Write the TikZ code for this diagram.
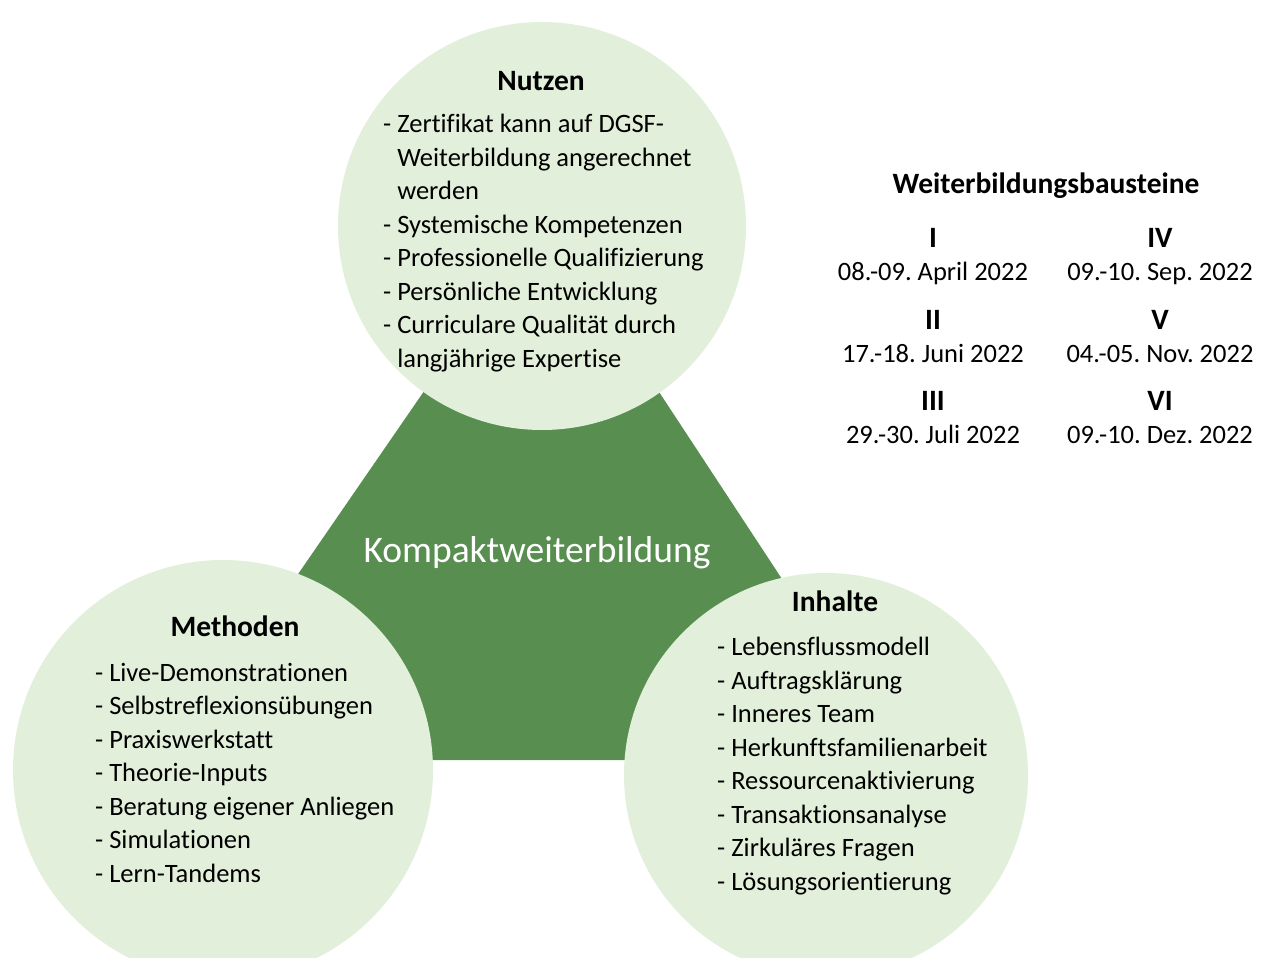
\documentclass[tikz,border=0pt]{standalone}
\usepackage{fontspec}
\setmainfont{Carlito}[Ligatures=NoCommon]
\frenchspacing
\definecolor{paleleaf}{RGB}{226,239,218}
\definecolor{darkleaf}{RGB}{88,142,80}
\begin{document}
\begin{tikzpicture}[x=1pt,y=-1pt,
bubble/.style={
% The shape:
circle,
% no border, only a pale green filling
draw=none,
fill=paleleaf
},
heading/.style={
anchor=base,
inner sep=0pt,
font=\fontsize{29.5}{33.5}\selectfont\bfseries
},
itemlist/.style={
% base is the baseline of the last line
anchor=base west,
inner sep=0pt,
align=left,
font=\fontsize{26.5}{33.5}\selectfont
},
date/.style={
anchor=base,
inner sep=0pt,
font=\fontsize{26.5}{33.5}\selectfont
}]
\useasboundingbox (0,0) rectangle (1269,958);
\clip (0,0) rectangle (1269,958);

% the dark triangle behind the circles
\coordinate (apex) at (544,217);
\coordinate (baseleft) at (170,760);
\coordinate (baseright) at (901,760);
\fill[darkleaf] (apex) -- (baseleft) -- (baseright) -- cycle;

% the three circles
\node[bubble,minimum size=408pt] (nutzen) at (542,226) {};
\node[bubble,minimum size=420pt] (methoden) at (223,770) {};
\node[bubble,minimum size=404pt] (inhalte) at (826,775) {};

\node[anchor=base,inner sep=0pt,text=white,
  font=\fontsize{37.5}{45}\selectfont] (kompakt) at (537,562) {Kompaktweiterbildung};

% Nutzen
\node[heading] (nutzenhead) at (541,91) {Nutzen};
\node[itemlist] (nutzenlist) at (383,367) {- Zertifikat kann auf DGSF-\\
\phantom{- }Weiterbildung angerechnet\\
\phantom{- }werden\\
- Systemische Kompetenzen\\
- Professionelle Qualifizierung\\
- Persönliche Entwicklung\\
- Curriculare Qualität durch\\
\phantom{- }langjährige Expertise};

% Methoden
\node[heading] (methodenhead) at (235,636) {Methoden};
\node[itemlist] (methodenlist) at (95,882) {- Live-Demonstrationen\\
- Selbstreflexionsübungen\\
- Praxiswerkstatt\\
- Theorie-Inputs\\
- Beratung eigener Anliegen\\
- Simulationen\\
- Lern-Tandems};

% Inhalte
\node[heading] (inhaltehead) at (835,611) {Inhalte};
\node[itemlist] (inhaltelist) at (717,890) {- Lebensflussmodell\\
- Auftragsklärung\\
- Inneres Team\\
- Herkunftsfamilienarbeit\\
- Ressourcenaktivierung\\
- Transaktionsanalyse\\
- Zirkuläres Fragen\\
- Lösungsorientierung};

% Weiterbildungsbausteine
\node[heading] (bausteine) at (1046,193) {Weiterbildungsbausteine};
\node[heading] (b1) at (933,247.5) {I};
\node[date] (d1) at (933,280.5) {08.-09. April 2022};
\node[heading] (b2) at (933,329.5) {II};
\node[date] (d2) at (933,362.5) {17.-18. Juni 2022};
\node[heading] (b3) at (933,410.5) {III};
\node[date] (d3) at (933,443.5) {29.-30. Juli 2022};
\node[heading] (b4) at (1160,247.5) {IV};
\node[date] (d4) at (1160,280.5) {09.-10. Sep. 2022};
\node[heading] (b5) at (1160,329.5) {V};
\node[date] (d5) at (1160,362.5) {04.-05. Nov. 2022};
\node[heading] (b6) at (1160,410.5) {VI};
\node[date] (d6) at (1160,443.5) {09.-10. Dez. 2022};
\end{tikzpicture}
\end{document}
